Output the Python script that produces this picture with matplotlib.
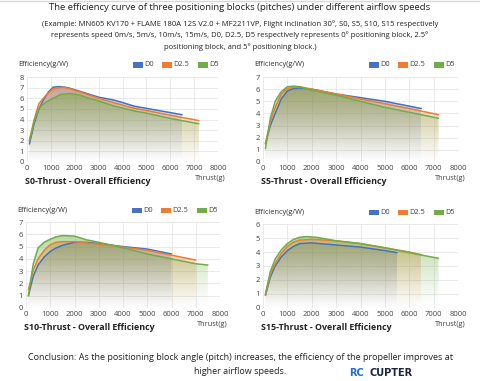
import numpy as np
import matplotlib
matplotlib.use("Agg")
import matplotlib.pyplot as plt
from matplotlib.colors import to_rgb
from matplotlib.patches import Rectangle
from matplotlib.lines import Line2D

plt.rcParams['font.family'] = ['Open Sans', 'DejaVu Sans']

series_names = ["D0", "D2.5", "D5"]
colors = ["#4472C4", "#ED7D31", "#70AD47"]

# S0
s0_d0_x = [100, 300, 500, 700, 900, 1100, 1400, 1700, 2000, 2500, 3000, 3600, 4000, 4500, 5000, 5500, 6000, 6500]
s0_d0_y = [1.7, 3.6, 5.0, 5.9, 6.6, 7.05, 7.1, 7.0, 6.8, 6.45, 6.1, 5.85, 5.6, 5.25, 5.05, 4.85, 4.65, 4.45]
s0_d25_x = [100, 300, 500, 800, 1100, 1500, 1800, 2200, 2600, 3000, 3600, 4500, 5000, 6000, 7200]
s0_d25_y = [2.0, 4.0, 5.5, 6.3, 6.9, 7.05, 6.9, 6.6, 6.3, 6.0, 5.6, 5.05, 4.85, 4.4, 3.9]
s0_d5_x = [100, 300, 500, 800, 1100, 1400, 1800, 2200, 2600, 3000, 3600, 4500, 5000, 6000, 7200]
s0_d5_y = [2.0, 3.8, 5.1, 5.65, 6.0, 6.35, 6.45, 6.3, 6.0, 5.75, 5.3, 4.8, 4.6, 4.1, 3.6]

# S5
s5_d0_x = [100, 300, 500, 750, 1000, 1250, 1500, 2000, 3000, 4000, 5000, 6000, 6500]
s5_d0_y = [1.5, 3.0, 4.0, 5.2, 5.85, 6.05, 6.1, 6.0, 5.6, 5.3, 5.0, 4.6, 4.4]
s5_d25_x = [100, 300, 500, 750, 1000, 1250, 1500, 2000, 3000, 4000, 5000, 6000, 7200]
s5_d25_y = [1.5, 3.3, 4.5, 5.6, 6.05, 6.15, 6.2, 6.0, 5.6, 5.2, 4.8, 4.4, 3.9]
s5_d5_x = [100, 300, 500, 750, 1000, 1250, 1500, 2000, 3000, 4000, 5000, 6000, 7200]
s5_d5_y = [1.1, 3.6, 5.0, 5.8, 6.2, 6.25, 6.2, 5.9, 5.5, 5.0, 4.5, 4.1, 3.6]

# S10
s10_d0_x = [100, 300, 500, 750, 1000, 1250, 1500, 2000, 2500, 3000, 4000, 5000, 6000]
s10_d0_y = [1.0, 2.6, 3.5, 4.15, 4.6, 4.9, 5.1, 5.35, 5.35, 5.25, 5.0, 4.8, 4.4]
s10_d25_x = [100, 300, 500, 750, 1000, 1250, 1500, 2000, 3000, 4000, 5000, 6000, 7000]
s10_d25_y = [1.5, 3.1, 4.0, 4.7, 5.15, 5.35, 5.4, 5.4, 5.2, 4.95, 4.7, 4.3, 3.9]
s10_d5_x = [100, 300, 500, 750, 1000, 1250, 1500, 2000, 2500, 3000, 4000, 5000, 6000, 7000, 7500]
s10_d5_y = [1.0, 3.6, 4.9, 5.35, 5.6, 5.8, 5.9, 5.85, 5.55, 5.35, 4.9, 4.4, 4.0, 3.6, 3.5]

# S15
s15_d0_x = [100, 300, 500, 750, 1000, 1250, 1500, 2000, 3000, 4000, 5000, 5500]
s15_d0_y = [0.9, 2.2, 3.0, 3.65, 4.1, 4.4, 4.6, 4.65, 4.5, 4.35, 4.1, 3.95]
s15_d25_x = [100, 300, 500, 750, 1000, 1250, 1500, 2000, 3000, 4000, 5000, 6000, 6500]
s15_d25_y = [0.9, 2.4, 3.2, 3.9, 4.4, 4.7, 4.85, 4.9, 4.8, 4.6, 4.3, 4.0, 3.8]
s15_d5_x = [100, 300, 500, 750, 1000, 1250, 1500, 1800, 2200, 3000, 4000, 5000, 6000, 7200]
s15_d5_y = [1.0, 2.6, 3.5, 4.15, 4.6, 4.9, 5.05, 5.1, 5.05, 4.8, 4.6, 4.3, 3.95, 3.55]

panels = [
    ("S0-Thrust - Overall Efficiency", 8,
     [(s0_d0_x, s0_d0_y), (s0_d25_x, s0_d25_y), (s0_d5_x, s0_d5_y)]),
    ("S5-Thrust - Overall Efficiency", 7,
     [(s5_d0_x, s5_d0_y), (s5_d25_x, s5_d25_y), (s5_d5_x, s5_d5_y)]),
    ("S10-Thrust - Overall Efficiency", 7,
     [(s10_d0_x, s10_d0_y), (s10_d25_x, s10_d25_y), (s10_d5_x, s10_d5_y)]),
    ("S15-Thrust - Overall Efficiency", 6,
     [(s15_d0_x, s15_d0_y), (s15_d25_x, s15_d25_y), (s15_d5_x, s15_d5_y)]),
]

W, H = 480, 381
fig = plt.figure(figsize=(4.8, 3.81), dpi=100)


def px(x, y):
    return x / W, 1 - y / H


# axes rects in pixel coords: (left, top, right, bottom)
rects = [(27, 77, 218, 162), (263, 77, 458, 162), (26, 222, 220, 308), (263, 224, 458, 308)]
alphas = [0.5, 0.5, 0.55]


def grad_fill(ax, x, y, color, alpha_top, z):
    x = np.asarray(x, float)
    y = np.asarray(y, float)
    poly = ax.fill_between(x, y, 0, facecolor='none', edgecolor='none', lw=0)
    path = poly.get_paths()[0]
    n = 256
    img = np.zeros((n, 1, 4))
    img[:, :, :3] = to_rgb(color)
    img[:, 0, 3] = np.linspace(alpha_top, 0, n) ** 1.2
    im = ax.imshow(img, extent=[x.min(), x.max(), 0, y.max()], aspect='auto',
                   origin='upper', zorder=z, interpolation='bilinear')
    im.set_clip_path(path, transform=ax.transData)


for i, (title, ymax, data) in enumerate(panels):
    l, t, r, b = rects[i]
    ax = fig.add_axes([l / W, 1 - b / H, (r - l) / W, (b - t) / H])
    for j, (xs, ys) in enumerate(data):
        grad_fill(ax, xs, ys, colors[j], alphas[j], 1 + j)
    for j, (xs, ys) in enumerate(data):
        ax.plot(xs, ys, color=colors[j], lw=1.1, zorder=5, solid_capstyle='round',
                solid_joinstyle='round')
    ax.set_xlim(0, 8000)
    ax.set_ylim(0, ymax)
    ax.set_xticks(np.arange(0, 8001, 1000))
    ax.set_yticks(np.arange(0, ymax + 1, 1))
    ax.grid(True, color='#e6e6e6', lw=0.6, zorder=0)
    ax.set_axisbelow(True)
    for s in ax.spines.values():
        s.set_visible(False)
    ax.tick_params(length=0, labelsize=5.5, colors='#444444', pad=2)
    # y label text
    fig.text(*px(l - 9, t - 12), "Efficiency(g/W)", fontsize=5.3, color='#333333',
             ha='left', va='center')
    # x label
    fig.text(*px(r + 8, b + 16), "Thrust(g)", fontsize=5.3, color='#444444',
             ha='right', va='center')
    # panel title
    fig.text(*px(l - 2, b + 19), title, fontsize=6.4, color='#222222',
             ha='left', va='center', fontweight='bold')
    # legend
    lx = l + 106
    ly = t - 12
    offs = [0, 29, 65]
    for j, name in enumerate(series_names):
        x0, y0 = px(lx + offs[j], ly + 2.5)
        fig.patches.append(Rectangle((x0, y0), 9.5 / W, 5 / H, transform=fig.transFigure,
                                     facecolor=colors[j], edgecolor='none'))
        fig.text(*px(lx + offs[j] + 11.5, ly), name, fontsize=5.3, color='#444444',
                 ha='left', va='center')

# top border line
fig.add_artist(Line2D([0, 1], [1 - 1 / H, 1 - 1 / H], transform=fig.transFigure,
                      color='#d8d8d8', lw=1))

fig.text(0.5, 1 - 8 / H,
         "The efficiency curve of three positioning blocks (pitches) under different airflow speeds",
         ha='center', va='center', fontsize=6.8, color='#222222')
sub = ["(Example: MN605 KV170 + FLAME 180A 12S V2.0 + MF2211VP, Flight inclination 30\u00b0, S0, S5, S10, S15 respectively",
       "represents speed 0m/s, 5m/s, 10m/s, 15m/s, D0, D2.5, D5 respectively represents 0\u00b0 positioning block, 2.5\u00b0",
       "positioning block, and 5\u00b0 positioning block.)"]
for k, s in enumerate(sub):
    fig.text(0.5, 1 - (24 + 11.5 * k) / H, s, ha='center', va='center', fontsize=5.5,
             color='#222222')

fig.text(0.5, 1 - 358 / H,
         "Conclusion: As the positioning block angle (pitch) increases, the efficiency of the propeller improves at",
         ha='center', va='center', fontsize=6.45, color='#222222')
fig.text(0.5, 1 - 371 / H, "higher airflow speeds.", ha='center', va='center',
         fontsize=6.45, color='#222222')

fig.text(*px(349, 373), "RC", ha='left', va='center', fontsize=7, color='#1f6fd6',
         fontweight='bold', family='DejaVu Sans')
fig.text(*px(370, 373), "CUPTER", ha='left', va='center', fontsize=7, color='#1a2340',
         fontweight='bold', family='DejaVu Sans')

fig.savefig("out.png", dpi=100, facecolor='white')
